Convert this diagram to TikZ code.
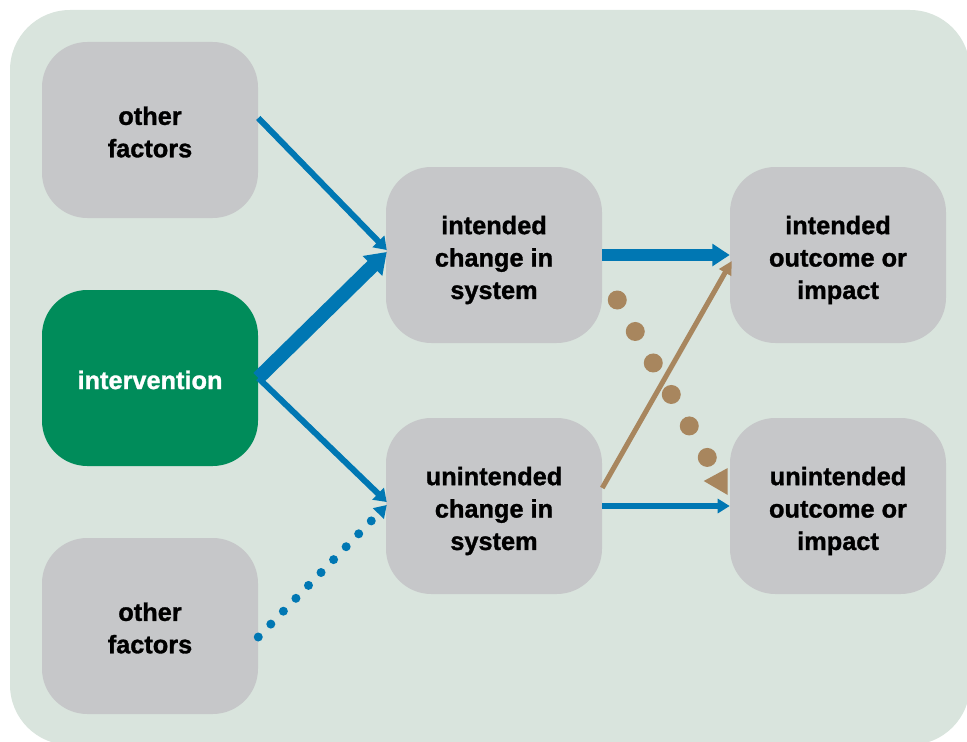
\documentclass[tikz,border=0pt]{standalone}
\usepackage{fontspec}
\setmainfont{Liberation Sans}
\newfontfamily\heavyfont[BoldFeatures={FakeBold=1.2}]{Liberation Sans}
\usetikzlibrary{arrows.meta,calc}
\definecolor{bgc}{HTML}{D9E4DD}
\definecolor{boxc}{HTML}{C6C7C9}
\definecolor{greenc}{HTML}{008C5A}
\definecolor{bluec}{HTML}{0077B3}
\definecolor{brownc}{HTML}{A8865E}
\begin{document}
\begin{tikzpicture}[x=0.75pt,y=-0.75pt,
  box/.style={rectangle, rounded corners=34pt, fill=boxc, minimum width=162pt,
    minimum height=132pt, inner sep=0pt},
  greenbox/.style={box, fill=greenc},
  boxtext/.style={align=center, inner sep=0pt, text=black,
    font=\heavyfont\fontsize{19}{24.3}\selectfont\bfseries},
  whitetext/.style={boxtext, text=white},
  thinarrow/.style={draw=bluec, line width=4.5pt, -{Triangle[length=9pt,width=12pt]}},
  thickarrow/.style={draw=bluec, line width=10.5pt, -{Triangle[length=15pt,width=20pt]}},
  hthick/.style={draw=bluec, line width=9pt, -{Triangle[length=13pt,width=16pt]}},
  hthin/.style={draw=bluec, line width=5pt, -{Triangle[length=9pt,width=10.5pt]}},
  bluedots/.style={draw=bluec, line width=6.75pt, line cap=round, dash pattern=on 0pt off 13.5pt,
    -{Triangle[length=9pt,width=11pt]}},
  brownline/.style={draw=brownc, line width=3.75pt, -{Triangle[length=10pt,width=10pt]}},
  browndots/.style={draw=brownc, line width=14.25pt, line cap=round, dash pattern=on 0pt off 27.2pt}
]
\useasboundingbox (0,0) rectangle (967,742);
\fill[bgc, rounded corners=45pt] (10,10) rectangle (970,745);

\node[box] (of1) at (150,130) {};
\node[greenbox] (iv) at (150,378) {};
\node[box] (of2) at (150,626) {};
\node[box] (ic) at (494,255) {};
\node[box] (uc) at (494,506) {};
\node[box] (io) at (838,255) {};
\node[box] (uo) at (838,506) {};

\node[boxtext] (of1t) at ($(of1.center)+(0,2)$) {other\\factors};
\node[whitetext] (ivt) at ($(iv.center)+(0,2)$) {intervention};
\node[boxtext] (of2t) at ($(of2.center)+(0,2)$) {other\\factors};
\node[boxtext] (ict) at ($(ic.center)+(0,5)$) {intended\\change in\\system};
\node[boxtext] (uct) at ($(uc.center)+(0,5)$) {unintended\\change in\\system};
\node[boxtext] (iot) at ($(io.center)+(0,5)$) {intended\\outcome or\\impact};
\node[boxtext] (uot) at ($(uo.center)+(0,5)$) {unintended\\outcome or\\impact};

\draw[thinarrow] ($(of1.east)+(0,-12)$) -- ($(ic.west)+(1,-5)$);
\draw[thickarrow] (iv.east) -- ($(ic.west)+(1,-3)$);
\draw[thinarrow] (iv.east) -- ($(uc.west)+(1,-4)$);
\draw[bluedots] ($(of2.east)+(0,11)$) -- ($(uc.west)+(1,-1)$);
\draw[hthick] (ic.east) -- (io.west);
\draw[hthin] (uc.east) -- (uo.west);
\draw[brownline] ($(uc.east)+(0,-18)$) -- ($(io.west)+(2,6)$);
\draw[browndots] ($(ic.east)+(15,45)$) -- ($(uo.west)+(-21,-46)$);
\fill[brownc] ($(uo.west)+(-26,-25)$) -- ($(uo.west)+(-2,-38)$) -- ($(uo.west)+(-2,-11)$) -- cycle;
\end{tikzpicture}
\end{document}
